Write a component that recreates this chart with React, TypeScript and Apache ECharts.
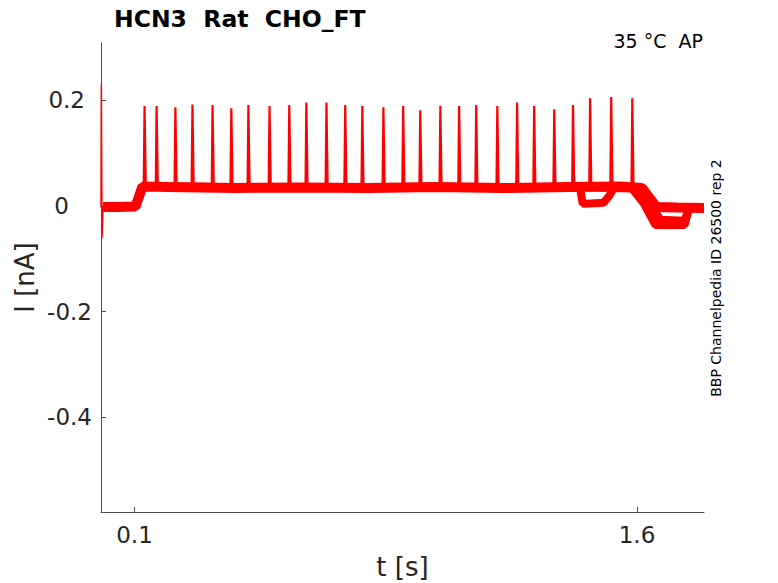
import React, { useEffect, useRef } from "react";
import * as echarts from "echarts";

// ---- data ----
const xTickValues = [0.1, 1.6];
const yTickValues = [-0.4, -0.2, 0, 0.2];

// action potential times (s) and peak currents (nA)
const spikeTimes = [
  0.13, 0.166, 0.222, 0.273, 0.333, 0.389, 0.44, 0.503, 0.562, 0.613, 0.673,
  0.729, 0.78, 0.843, 0.902, 0.953, 1.013, 1.069, 1.12, 1.183, 1.242, 1.293,
  1.353, 1.409, 1.46, 1.523, 1.586,
];
const spikePeaks = [
  0.189, 0.189, 0.187, 0.192, 0.191, 0.185, 0.191, 0.189, 0.191, 0.196, 0.196,
  0.191, 0.189, 0.187, 0.189, 0.181, 0.189, 0.189, 0.191, 0.189, 0.196, 0.189,
  0.183, 0.191, 0.204, 0.206, 0.204,
];
const spikeBase = 0.036;

// sweep 1 (main trace)
const sweepATimes = [0, 0.001, 0.003, 0.006, 0.05, 0.103, 0.124, 0.2, 0.4, 0.6, 0.8, 1.0, 1.2, 1.4, 1.55, 1.615, 1.658, 1.72, 1.8];
const sweepAValues = [-0.003, 0.23, -0.06, -0.002, -0.002, -0.001, 0.037, 0.036, 0.034, 0.035, 0.034, 0.036, 0.034, 0.036, 0.037, 0.034, -0.002, -0.003, -0.004];

// sweep 2
const sweepBTimes = [0.006, 0.103, 0.124, 0.6, 1.0, 1.43, 1.438, 1.5, 1.518, 1.53, 1.585, 1.62, 1.655, 1.742, 1.755, 1.8];
const sweepBValues = [-0.002, -0.001, 0.037, 0.035, 0.036, 0.034, 0.004, 0.006, 0.02, 0.034, 0.033, 0.005, -0.036, -0.036, -0.005, -0.004];

// sweep 3
const sweepCTimes = [0.006, 0.103, 0.124, 0.6, 1.0, 1.4, 1.595, 1.63, 1.67, 1.742, 1.755, 1.8];
const sweepCValues = [-0.002, -0.001, 0.037, 0.035, 0.036, 0.036, 0.034, 0.012, -0.026, -0.028, -0.004, -0.004];

const pairs = (ts: number[], vs: number[]) => ts.map((t, i) => [t, vs[i]]);

export default function App() {
  const ref = useRef<HTMLDivElement>(null);

  useEffect(() => {
    if (!ref.current) return;
    const chart = echarts.init(ref.current, undefined, { renderer: "svg" });

    const spikeData: number[][] = [];
    spikeTimes.forEach((t, i) => {
      spikeData.push([t - 0.0025, spikeBase]);
      spikeData.push([t, spikePeaks[i]]);
      spikeData.push([t + 0.0035, spikeBase + 0.004]);
      spikeData.push([t + 0.007, spikeBase]);
    });

    const font = "DejaVu Sans";
    const txt = "#262626";
    const axisCol = "#4d4d4d";
    const red = "#ff0000";
    const lbl = { fontFamily: font, fontSize: 23, color: txt };

    chart.setOption({
      animation: false,
      backgroundColor: "#ffffff",
      textStyle: { fontFamily: font },
      grid: {
        left: 101,
        top: 43,
        right: 74,
        bottom: 71,
        containLabel: false,
        outerBoundsMode: "none",
      },
      title: {
        text: "HCN3  Rat  CHO_FT",
        left: 109,
        top: 2,
        textStyle: { fontFamily: font, fontWeight: "bold", fontSize: 23.5, color: "#000" },
      },
      xAxis: {
        type: "value",
        min: 0,
        max: 1.8,
        name: "t [s]",
        nameLocation: "middle",
        nameGap: 42,
        nameMoveOverlap: false,
        nameTextStyle: { fontFamily: font, fontSize: 26, color: txt },
        axisLine: { show: true, onZero: false, lineStyle: { color: axisCol, width: 1 } },
        axisTick: { show: true, inside: true, length: 5, customValues: xTickValues, lineStyle: { color: axisCol } },
        axisLabel: {
          show: true,
          customValues: xTickValues,
          margin: 11,
          ...lbl,
          formatter: (v: number) => String(v),
        },
        splitLine: { show: false },
      },
      yAxis: {
        type: "value",
        min: -0.579,
        max: 0.3084,
        name: "I [nA]",
        nameLocation: "middle",
        nameGap: 63,
        nameMoveOverlap: false,
        nameTextStyle: { fontFamily: font, fontSize: 26, color: txt },
        axisLine: { show: true, onZero: false, lineStyle: { color: axisCol, width: 1 } },
        axisTick: { show: true, inside: true, length: 5, customValues: yTickValues, lineStyle: { color: axisCol } },
        axisLabel: {
          show: true,
          customValues: yTickValues,
          margin: 9,
          ...lbl,
          formatter: (v: number) => {
            if (Math.abs(v) < 1e-9) return "{z|0}";
            const s = String(Math.round(v * 10) / 10);
            return v > 0 ? "{p|" + s + "}" : "{n|" + s + "}";
          },
          rich: {
            z: { ...lbl, padding: [0, 23, 0, 0] },
            p: { ...lbl, padding: [0, 7, 0, 0] },
            n: { ...lbl },
          },
        },
        splitLine: { show: false },
      },
      graphic: [
        {
          type: "text",
          x: 703,
          y: 41,
          style: {
            text: "35 °C\u00a0\u00a0AP",
            fontFamily: font,
            fontSize: 19,
            fill: "#000",
            align: "right",
            verticalAlign: "middle",
          },
        },
        {
          type: "text",
          x: 716,
          y: 278,
          rotation: Math.PI / 2,
          style: {
            text: "BBP Channelpedia ID 26500 rep 2",
            fontFamily: font,
            fontSize: 14,
            fill: "#000",
            align: "center",
            verticalAlign: "middle",
          },
        },
      ],
      series: [
        {
          type: "line",
          data: pairs(sweepCTimes, sweepCValues),
          showSymbol: false,
          symbol: "none",
          lineStyle: { color: red, width: 8 },
          clip: true,
        },
        {
          type: "line",
          data: pairs(sweepBTimes, sweepBValues),
          showSymbol: false,
          symbol: "none",
          lineStyle: { color: red, width: 8 },
          clip: true,
        },
        {
          type: "line",
          data: pairs(sweepATimes.slice(3), sweepAValues.slice(3)),
          showSymbol: false,
          symbol: "none",
          lineStyle: { color: red, width: 10 },
          clip: true,
        },
        {
          type: "line",
          data: pairs(sweepATimes.slice(0, 4), sweepAValues.slice(0, 4)),
          showSymbol: false,
          symbol: "none",
          lineStyle: { color: red, width: 1.5 },
          clip: true,
        },
        {
          type: "line",
          data: spikeData,
          showSymbol: false,
          symbol: "none",
          lineStyle: { color: red, width: 2.2 },
          clip: true,
        },
      ],
    });

    return () => chart.dispose();
  }, []);

  return (
    <div
      ref={ref}
      style={{ position: "absolute", left: 0, top: 0, width: 778, height: 583 }}
    />
  );
}
